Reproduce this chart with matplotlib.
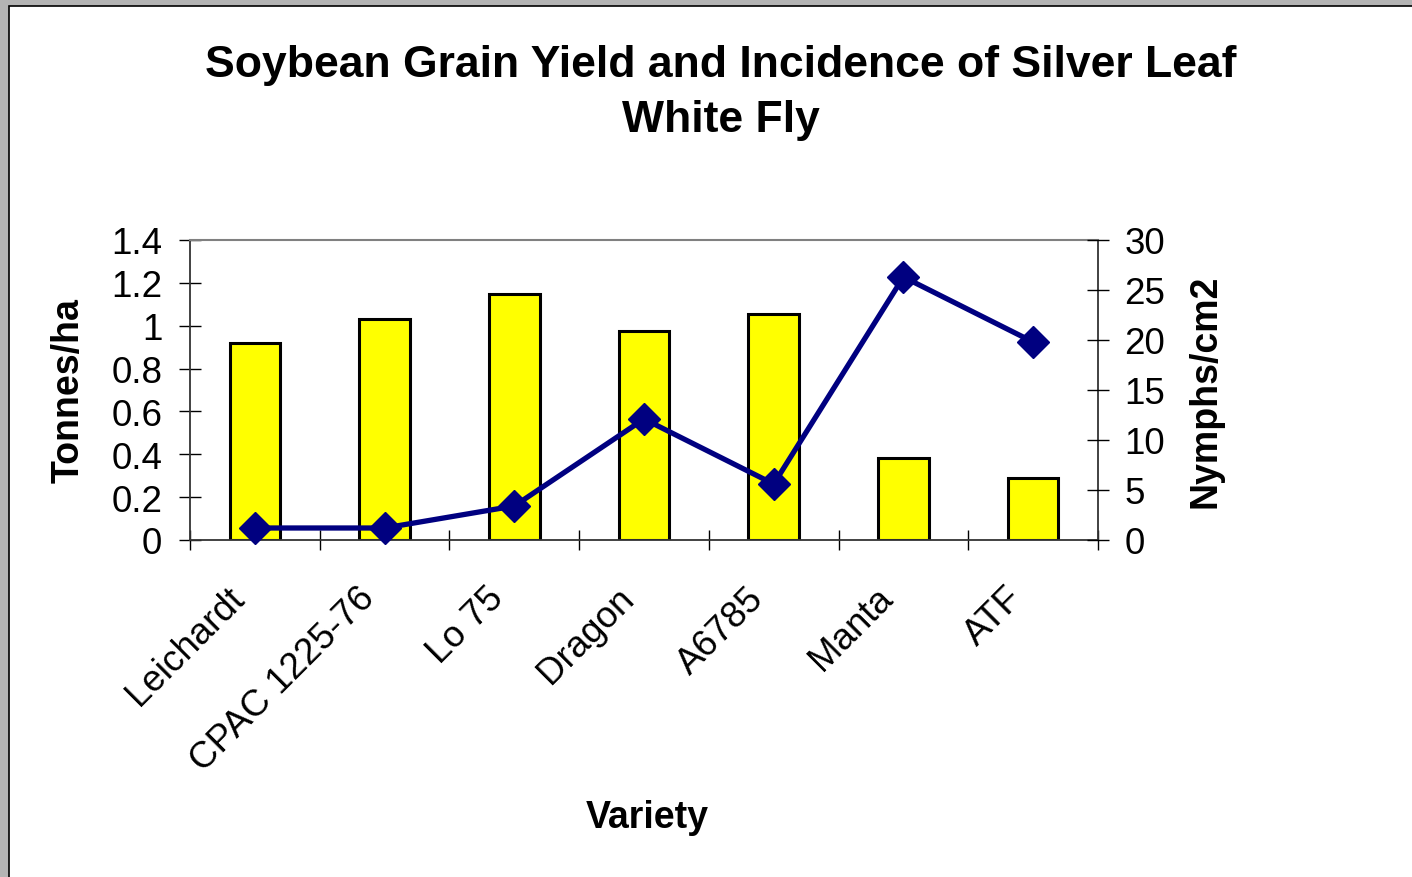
import matplotlib.pyplot as plt
from matplotlib.patches import Rectangle
from matplotlib.transforms import ScaledTranslation
import numpy as np

plt.rcParams['font.family'] = ['Liberation Sans', 'DejaVu Sans']

# data
varieties = ['Leichardt', 'CPAC 1225-76', 'Lo 75', 'Dragon', 'A6785', 'Manta', 'ATF']
yield_t = [0.92, 1.03, 1.15, 0.975, 1.055, 0.385, 0.29]
nymphs = [1.2, 1.2, 3.4, 12.1, 5.6, 26.3, 19.8]

W, H = 1412, 878
fig = plt.figure(figsize=(W / 100, H / 100), dpi=100, facecolor='#b4b4b4')

# white chart area with black frame (like the pasted slide object)
fig.patches.append(Rectangle((9 / W, -0.01), 1.0, (H - 7) / H + 0.01,
                             transform=fig.transFigure, facecolor='white',
                             edgecolor='black', linewidth=1.2, zorder=-1))

ax = fig.add_axes([190 / W, 1 - 541 / H, (1098 - 190) / W, (541 - 241) / H])
ax.set_facecolor('none')
x = np.arange(len(varieties))
fs = 26.5

ax.bar(x, yield_t, width=0.39, color='#ffff00', edgecolor='black', linewidth=2.2, zorder=2)
ax.set_xlim(-0.5, len(varieties) - 0.5)
ax.set_ylim(0, 1.4)
ax.set_yticks(np.arange(0, 1.41, 0.2))
ax.set_yticklabels(['0', '0.2', '0.4', '0.6', '0.8', '1', '1.2', '1.4'])
ax.tick_params(axis='y', direction='inout', length=16, width=1, labelsize=fs, pad=12)

ax.set_xticks(np.arange(-0.5, len(varieties) - 0.4, 1.0), minor=False)
ax.set_xticklabels([])
ax.tick_params(axis='x', direction='inout', length=15, width=1)
ax.set_xticks(x, minor=True)
ax.set_xticklabels(varieties, minor=True, rotation=45, ha='right', va='top',
                   rotation_mode='anchor', fontsize=fs)
ax.tick_params(axis='x', which='minor', length=0, pad=29)
shift = ScaledTranslation(-0.28, 0, fig.dpi_scale_trans)
for lab in ax.get_xticklabels(minor=True):
    lab.set_transform(lab.get_transform() + shift)

ax.spines['top'].set_color('#808080')
ax.spines['top'].set_linewidth(1.5)
for s in ['left', 'right', 'bottom']:
    ax.spines[s].set_color('#333333')
    ax.spines[s].set_linewidth(1.3)

ax2 = ax.twinx()
ax2.plot(x, nymphs, color='#000080', linewidth=3.8, marker='D', markersize=16,
         zorder=3, clip_on=False)
ax2.set_ylim(0, 30)
ax2.set_yticks(np.arange(0, 31, 5))
ax2.tick_params(axis='y', direction='inout', length=16, width=1, labelsize=fs, pad=11)
for s in ['left', 'right', 'bottom', 'top']:
    ax2.spines[s].set_visible(False)

ax.set_ylabel('Tonnes/ha', fontsize=27, fontweight='bold')
ax.yaxis.set_label_coords(-103 / 908, 0.5)
ax2.set_ylabel('Nymphs/cm2', fontsize=27, fontweight='bold')
ax2.yaxis.set_label_coords(1 + 90 / 908, 0.5)

fig.text(647 / W, 1 - 818 / H, 'Variety', fontsize=27, fontweight='bold',
         ha='center', va='center')
fig.text(721 / W, 1 - 93 / H, 'Soybean Grain Yield and Incidence of Silver Leaf\nWhite Fly',
         fontsize=32, fontweight='bold', ha='center', va='center', linespacing=1.42)

fig.savefig('out.png', dpi=100, facecolor=fig.get_facecolor())
